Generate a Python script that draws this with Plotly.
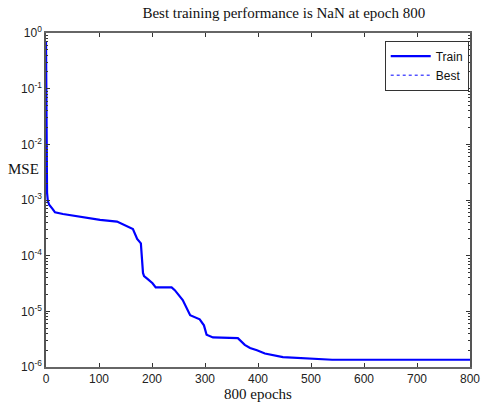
import plotly.graph_objects as go

# Training record: epoch numbers and mean squared error
epochs = [0, 1, 2, 3.5, 6, 13, 17, 32, 64, 102, 134, 153, 164, 172, 179, 183,
          185, 192, 201, 207, 237, 243, 258, 272, 290, 298, 303, 315, 347, 362,
          375, 385, 398, 413, 447, 479, 540, 800]
mse = [0.7, 2.0e-3, 1.35e-3, 9.5e-4, 8.2e-4, 6.8e-4, 6.0e-4, 5.6e-4, 5.0e-4,
       4.4e-4, 4.1e-4, 3.4e-4, 3.0e-4, 2.0e-4, 1.66e-4, 4.9e-5, 4.3e-5, 3.8e-5,
       3.2e-5, 2.7e-5, 2.7e-5, 2.4e-5, 1.6e-5, 8.5e-6, 7.2e-6, 5.6e-6, 3.8e-6,
       3.4e-6, 3.4e-6, 3.3e-6, 2.5e-6, 2.2e-6, 2.0e-6, 1.75e-6, 1.5e-6, 1.45e-6,
       1.35e-6, 1.35e-6]

# Best performance is undefined (NaN), so the Best trace has no drawable points
best_epochs = [800]
best_mse = [float("nan")]

x_ticks = [0, 100, 200, 300, 400, 500, 600, 700, 800]
y_ticks = [1e-6, 1e-5, 1e-4, 1e-3, 1e-2, 1e-1, 1]
y_tick_text = ["10<sup>-6</sup>", "10<sup>-5</sup>", "10<sup>-4</sup>", "10<sup>-3</sup>",
               "10<sup>-2</sup>", "10<sup>-1</sup>", "10<sup>0</sup>"]
y_minor = [m * 10 ** e for e in range(-6, 0) for m in range(2, 10)]

fig = go.Figure()
fig.add_trace(go.Scatter(x=epochs, y=mse, mode="lines", name="Train",
                         line=dict(color="#0000ff", width=2.2)))
fig.add_trace(go.Scatter(x=best_epochs, y=best_mse, mode="lines", name="Best",
                         line=dict(color="#0000ff", width=1, dash="dot")))

axis_font = dict(family="Arial, Liberation Sans, sans-serif", size=12, color="#222222")
serif = "Liberation Serif, Times New Roman, serif"

fig.update_layout(
    width=481, height=403,
    margin=dict(l=46, r=11, t=33, b=36, autoexpand=False),
    paper_bgcolor="white", plot_bgcolor="white",
    title=dict(text="Best training performance is NaN at epoch 800",
               font=dict(family=serif, size=15, color="#111111"),
               x=0.59, xanchor="center", y=0.968, yanchor="middle"),
    showlegend=True,
    legend=dict(x=0.997, y=0.977, xanchor="right", yanchor="top",
                bgcolor="white", bordercolor="#333333", borderwidth=1,
                font=dict(family="Arial, Liberation Sans, sans-serif", size=12, color="#111111"),
                itemwidth=40, tracegroupgap=0),
)

fig.update_xaxes(
    range=[0, 800], tickvals=x_ticks, ticks="inside", ticklen=4, tickcolor="#333333",
    showline=True, linecolor="#666666", linewidth=1.8, mirror="ticks",
    showgrid=False, zeroline=False, tickfont=axis_font, automargin=False,
    title=dict(text="800 epochs", standoff=2,
               font=dict(family=serif, size=15, color="#111111")),
)
fig.update_yaxes(
    type="log", range=[-6, 0], tickvals=y_ticks, ticktext=y_tick_text,
    ticks="inside", ticklen=4, tickcolor="#333333",
    minor=dict(tickvals=y_minor, ticks="inside", ticklen=2, tickcolor="#333333"),
    showline=True, linecolor="#555555", linewidth=1.5, mirror="ticks",
    showgrid=False, zeroline=False, tickfont=axis_font, automargin=False,
)

# Horizontal y-axis label placed left of the tick labels
fig.add_annotation(text="MSE", xref="paper", yref="y", x=-0.054, y=-2.45,
                   showarrow=False, xanchor="center", yanchor="middle",
                   font=dict(family=serif, size=15, color="#111111"))

fig.write_html("out.html")
